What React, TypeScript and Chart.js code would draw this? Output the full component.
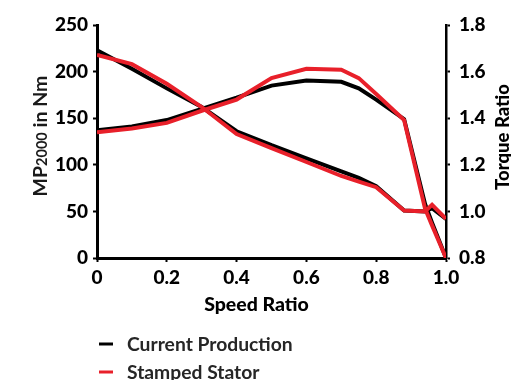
import React, { useEffect, useRef } from 'react';
import { Chart, registerables } from 'chart.js';

Chart.register(...registerables);

// Speed ratio sample points (x axis)
const speedRatio = [0, 0.1, 0.2, 0.3, 0.4, 0.5, 0.6, 0.7, 0.75, 0.8, 0.88, 0.94, 0.96, 1.0];
// MP2000 in Nm (left axis)
const mpCurrent = [137, 141, 148, 160, 172, 185, 190.5, 189, 182, 170, 149, 58, 38, 0];
const mpStamped = [135, 139, 145, 158, 170, 193, 203, 202, 193, 176, 148, 53, 35, 0];
// Torque ratio (right axis)
const trCurrent = [1.692, 1.612, 1.528, 1.448, 1.344, 1.284, 1.228, 1.172, 1.144, 1.108, 1.004, 1.0, 1.014, 0.968];
const trStamped = [1.672, 1.632, 1.548, 1.448, 1.332, 1.272, 1.212, 1.152, 1.128, 1.104, 1.004, 1.0, 1.028, 0.968];

const xTicks = [0, 0.2, 0.4, 0.6, 0.8, 1.0];
const seriesNames = ['Current Production', 'Stamped Stator'];
const BLACK = '#000000';
const RED = '#e8202a';
const FAMILY = "Lato, 'Open Sans', sans-serif";
const HEAVY = '900';

const toPoints = (ys: number[]) => speedRatio.map((x, i) => ({ x, y: ys[i] }));

const textPlugin = {
  id: 'customText',
  afterDraw(chart: any) {
    const ctx: CanvasRenderingContext2D = chart.ctx;
    const area = chart.chartArea;
    ctx.save();
    ctx.fillStyle = '#1a1a1a';

    // Left axis title: MP2000 in Nm (rotated)
    const mainFont = `bold 19.5px ${FAMILY}`;
    const subFont = `bold 14.5px ${FAMILY}`;
    ctx.font = mainFont;
    const w1 = ctx.measureText('MP').width;
    const w3 = ctx.measureText(' in Nm').width;
    ctx.font = subFont;
    const w2 = ctx.measureText('2000').width;
    const total = w1 + w2 + w3;
    ctx.save();
    ctx.translate(40, 136);
    ctx.rotate(-Math.PI / 2);
    ctx.textBaseline = 'alphabetic';
    ctx.textAlign = 'left';
    let x0 = -total / 2;
    const base = 7;
    ctx.font = mainFont;
    ctx.fillText('MP', x0, base);
    x0 += w1;
    ctx.font = subFont;
    ctx.fillText('2000', x0, base);
    x0 += w2;
    ctx.font = mainFont;
    ctx.fillText(' in Nm', x0, base);
    ctx.restore();

    // Right axis title
    ctx.save();
    ctx.translate(503, 137);
    ctx.rotate(-Math.PI / 2);
    ctx.font = `${HEAVY} 18.5px ${FAMILY}`;
    ctx.fillStyle = '#000';
    ctx.textAlign = 'center';
    ctx.textBaseline = 'middle';
    ctx.fillText('Torque Ratio', 0, 0);
    ctx.restore();

    // X axis title
    ctx.font = `${HEAVY} 19.5px ${FAMILY}`;
    ctx.fillStyle = '#000';
    ctx.textAlign = 'center';
    ctx.textBaseline = 'middle';
    ctx.fillText('Speed Ratio', 256.5, 305);

    // Legend
    const rows = [
      { y: 344, color: BLACK, text: seriesNames[0] },
      { y: 372, color: RED, text: seriesNames[1] },
    ];
    ctx.font = `bold 19.3px ${FAMILY}`;
    ctx.textAlign = 'left';
    ctx.textBaseline = 'middle';
    rows.forEach((r) => {
      ctx.strokeStyle = r.color;
      ctx.lineWidth = 3;
      ctx.beginPath();
      ctx.moveTo(99, r.y);
      ctx.lineTo(113, r.y);
      ctx.stroke();
      ctx.fillStyle = '#262626';
      ctx.fillText(r.text, 127, r.y + 1);
    });
    ctx.restore();
  },
};

export default function App() {
  const ref = useRef<HTMLCanvasElement | null>(null);
  useEffect(() => {
    if (!ref.current) return;
    const tickFont = { family: FAMILY, size: 19, weight: HEAVY as any };
    const gridOpts = {
      display: true,
      drawOnChartArea: false,
      drawTicks: true,
      tickLength: 4,
      tickWidth: 2,
      tickColor: '#000',
    };
    const chart = new Chart(ref.current, {
      type: 'line',
      data: {
        datasets: [
          {
            label: seriesNames[0] + ' MP',
            data: toPoints(mpCurrent),
            yAxisID: 'y',
            borderColor: BLACK,
            borderWidth: 4,
            pointRadius: 0,
            tension: 0,
            order: 2,
          },
          {
            label: seriesNames[0] + ' TR',
            data: toPoints(trCurrent),
            yAxisID: 'y1',
            borderColor: BLACK,
            borderWidth: 4,
            pointRadius: 0,
            tension: 0,
            order: 2,
          },
          {
            label: seriesNames[1] + ' MP',
            data: toPoints(mpStamped),
            yAxisID: 'y',
            borderColor: RED,
            borderWidth: 4,
            pointRadius: 0,
            tension: 0,
            order: 1,
          },
          {
            label: seriesNames[1] + ' TR',
            data: toPoints(trStamped),
            yAxisID: 'y1',
            borderColor: RED,
            borderWidth: 4,
            pointRadius: 0,
            tension: 0,
            order: 1,
          },
        ],
      },
      options: {
        responsive: false,
        animation: false,
        devicePixelRatio: 1,
        layout: { padding: { top: 25, left: 0, right: 0, bottom: 0 } },
        plugins: {
          legend: { display: false },
          tooltip: { enabled: false },
        },
        scales: {
          x: {
            type: 'linear',
            min: 0,
            max: 1,
            afterBuildTicks: (s: any) => {
              s.ticks = xTicks.map((v) => ({ value: v }));
            },
            ticks: {
              font: tickFont,
              color: '#000',
              padding: 4,
              maxRotation: 0,
              autoSkip: false,
              callback: (v: any) => (Number(v) === 0 ? '0' : Number(v).toFixed(1)),
            },
            grid: gridOpts,
            border: { display: true, color: '#000', width: 3 },
            afterFit: (s: any) => {
              s.height = 122;
            },
          },
          y: {
            type: 'linear',
            position: 'left',
            min: 0,
            max: 250,
            ticks: { stepSize: 50, font: tickFont, color: '#000', padding: 5 },
            grid: gridOpts,
            border: { display: true, color: '#000', width: 3 },
            afterFit: (s: any) => {
              s.width = 97;
            },
          },
          y1: {
            type: 'linear',
            position: 'right',
            min: 0.8,
            max: 1.8,
            ticks: {
              stepSize: 0.2,
              font: tickFont,
              color: '#000',
              padding: 9,
              callback: (v: any) => Number(v).toFixed(1),
            },
            grid: gridOpts,
            border: { display: true, color: '#000', width: 2.5 },
            afterFit: (s: any) => {
              s.width = 65;
            },
          },
        },
      },
      plugins: [textPlugin],
    });
    return () => chart.destroy();
  }, []);
  return (
    <div style={{ position: 'absolute', left: 0, top: 0, width: 511, height: 380 }}>
      <canvas ref={ref} width={511} height={380} />
    </div>
  );
}
